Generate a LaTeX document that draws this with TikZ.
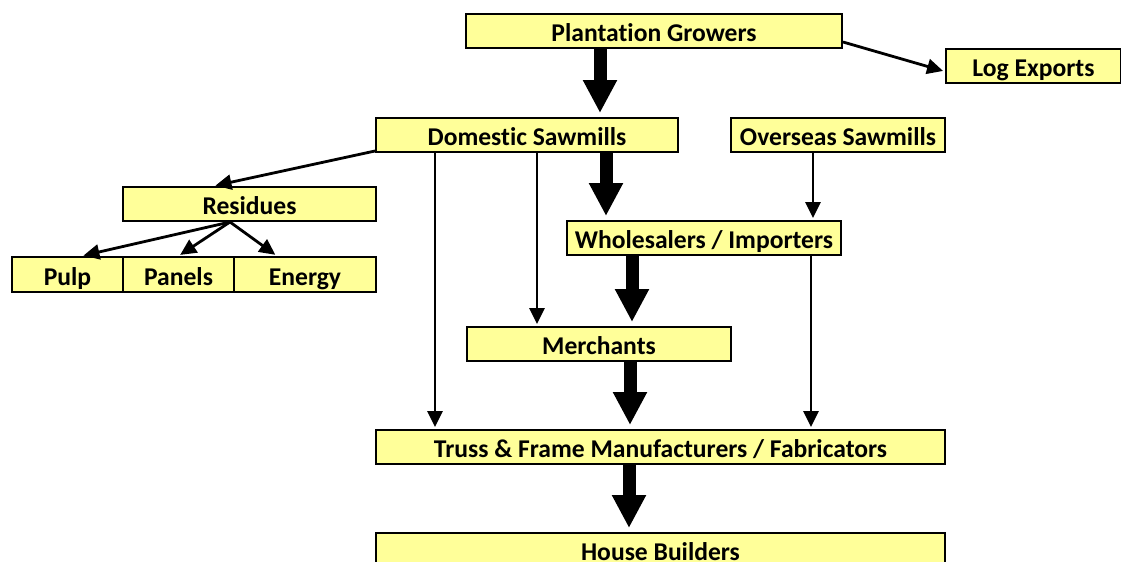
\documentclass[tikz,border=0pt]{standalone}
\usepackage{fontspec}
\setmainfont[Ligatures = NoCommon]{Carlito}
\usetikzlibrary{arrows.meta}

\begin{document}
\begin{tikzpicture}[x = 0.5pt, y = -0.5pt,
                        box/.style = {draw, line width = 1pt, fill = boxfill, inner sep = 0pt,
                                      minimum height = 17pt, text height = 12pt, text depth = 1.3pt,
                                      font = \fontsize{12.8}{15}\selectfont\bfseries},
                        flow/.style = {line width = 1.4pt, -{Triangle[width = 7.5pt, length = 8pt]}, shorten > = 1pt},
                        bigflow/.style = {line width = 6.5pt, -{Triangle[width = 16pt, length = 16.5pt]}, shorten > = 2pt}]
      \definecolor{boxfill}{RGB}{255,255,153}
      \useasboundingbox (0, 0) rectangle (1121, 562);

      \node [box, minimum width = 188pt] (growers) at (654, 31) {Plantation Growers};
      \node [box, minimum width = 87.5pt] (exports) at (1033.5, 65.5) {Log Exports};
      \node [box, minimum width = 151pt] (domestic) at (527, 135) {Domestic Sawmills};
      \node [box, minimum width = 107pt] (overseas) at (838, 135) {Overseas Sawmills};
      \node [box, minimum width = 126.5pt] (residues) at (249.5, 204) {Residues};
      \node [box, minimum width = 55.5pt, minimum height = 17.5pt] (pulp) at (67.5, 274.5) {Pulp};
      \node [box, minimum width = 55.5pt, minimum height = 17.5pt] (panels) at (178.5, 274.5) {Panels};
      \node [box, minimum width = 71pt, minimum height = 17.5pt] (energy) at (305, 274.5) {Energy};
      \node [box, minimum width = 137pt] (wholesalers) at (704, 238) {Wholesalers / Importers};
      \node [box, minimum width = 132pt] (merchants) at (599, 344) {Merchants};
      \node [box, minimum width = 284.5pt] (truss) at (660.5, 447) {Truss \& Frame Manufacturers / Fabricators};
      \node [box, minimum width = 284.5pt] (builders) at (660.5, 550) {House Builders};

      \draw [bigflow] ([xshift = -27pt]growers.south) -- ([xshift = -27pt]growers.south |- domestic.north);
      \draw [bigflow] ([xshift = 39.5pt]domestic.south) -- ([xshift = 39.5pt]domestic.south |- wholesalers.north);
      \draw [bigflow] ([xshift = -36pt]wholesalers.south) -- ([xshift = -36pt]wholesalers.south |- merchants.north);
      \draw [bigflow] ([xshift = 15.5pt]merchants.south) -- ([xshift = 15.5pt]merchants.south |- truss.north);
      \draw [bigflow] ([xshift = -15.75pt]truss.south) -- ([xshift = -15.75pt]truss.south |- builders.north);

      \draw [flow] ([yshift = -5.5pt]growers.east) -- ([yshift = -3pt]exports.west);
      \draw [flow] ([yshift = 1pt]domestic.south west) -- ([xshift = -18pt]residues.north);
      \draw [flow] ([xshift = -9.75pt]residues.south) -- ([xshift = 7pt]pulp.north);
      \draw [flow] ([xshift = -9.75pt]residues.south) -- (panels.north);
      \draw [flow] ([xshift = -9.75pt]residues.south) -- ([xshift = -14pt]energy.north);
      \draw [flow] ([xshift = -46pt]domestic.south) -- ([xshift = -46pt]domestic.south |- truss.north);
      \draw [flow] ([xshift = 5pt]domestic.south) -- ([xshift = 5pt]domestic.south |- merchants.north);
      \draw [flow] ([xshift = -12.5pt]overseas.south) -- ([xshift = -12.5pt]overseas.south |- wholesalers.north);
      \draw [flow] ([xshift = 53.5pt]wholesalers.south) -- ([xshift = 53.5pt]wholesalers.south |- truss.north);
\end{tikzpicture}
\end{document}
